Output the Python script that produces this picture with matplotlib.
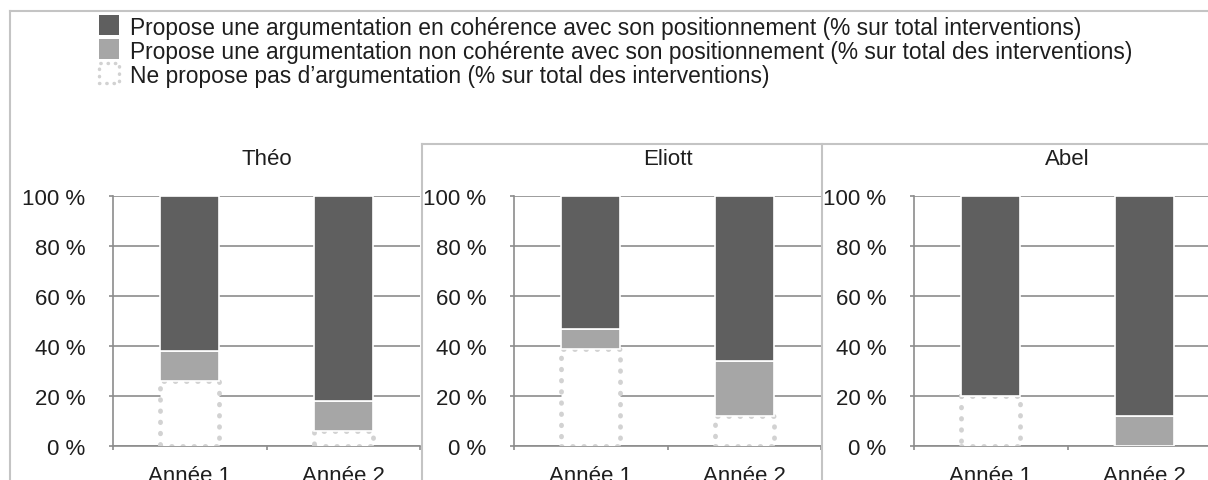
import matplotlib.pyplot as plt
from matplotlib.patches import Rectangle
from matplotlib.lines import Line2D
import numpy as np

plt.rcParams['font.family'] = ['Liberation Sans', 'DejaVu Sans']

eleves = ['Théo', 'Eliott', 'Abel']
annees = ['Année 1', 'Année 2']
# % sur total des interventions, par élève : [Année 1, Année 2]
sans_arg = [[26, 6], [39, 12], [20, 0]]
non_coherente = [[12, 12], [8, 22], [0, 12]]
coherente = [[62, 82], [53, 66], [80, 88]]

legende = [
    'Propose une argumentation en cohérence avec son positionnement (% sur total interventions)',
    'Propose une argumentation non cohérente avec son positionnement (% sur total des interventions)',
    'Ne propose pas d\u2019argumentation (% sur total des interventions)',
]

c_fonce = '#5f5f5f'
c_clair = '#a6a6a6'
c_pointille = '#d2d2d2'
c_grille = '#8c8c8c'
c_cadre = '#c4c4c4'
c_texte = '#1e1e1e'
taille = 16

W, H = 1208, 481
fig = plt.figure(figsize=(W / 100, H / 100), dpi=100)

gauches = [113, 514, 914]
x = np.arange(len(annees))
larg = 0.385

for k, nom in enumerate(eleves):
    ax = fig.add_axes([gauches[k] / W, (H - 447) / H, 307 / W, 250 / H])
    a = np.array(sans_arg[k])
    b = np.array(non_coherente[k])
    c = np.array(coherente[k])
    ax.bar(x, a, larg, color='white', edgecolor=c_pointille, linewidth=3.5,
           linestyle=(0, (0.1, 2.2)), capstyle='round', zorder=3)
    ax.bar(x, b, larg, bottom=a, color=c_clair, edgecolor='white', linewidth=1.2, zorder=3)
    ax.bar(x, c, larg, bottom=a + b, color=c_fonce, edgecolor='white', linewidth=1.2, zorder=3)

    ax.set_xlim(-0.5, 1.5)
    ax.set_ylim(0, 100)
    ax.set_yticks(range(0, 101, 20))
    ax.set_yticklabels([f'{v} %' for v in range(0, 101, 20)])
    ax.yaxis.grid(True, color=c_grille, linewidth=1.2)
    ax.set_axisbelow(True)
    ax.set_xticks(x)
    ax.set_xticklabels(annees)
    ax.set_xticks([-0.5, 0.5, 1.5], minor=True)
    ax.tick_params(axis='x', which='major', length=0, pad=14, labelsize=taille, labelcolor=c_texte)
    ax.tick_params(axis='x', which='minor', length=3, color=c_grille, width=1.2)
    ax.tick_params(axis='y', length=3, color=c_grille, width=1.2, pad=17, labelsize=taille, labelcolor=c_texte)
    for s in ['top', 'right']:
        ax.spines[s].set_visible(False)
    for s in ['left', 'bottom']:
        ax.spines[s].set_color(c_grille)
        ax.spines[s].set_linewidth(1.2)
    ax.set_title(nom, fontsize=taille, color=c_texte, pad=23)

# cadres
def trait(x0, y0, x1, y1):
    fig.add_artist(Line2D([x0 / W, x1 / W], [1 - y0 / H, 1 - y1 / H],
                          color=c_cadre, linewidth=1.5))

trait(10, 12, 10, H)
trait(10, 12, W, 12)
trait(422, 145, W, 145)
trait(422, 145, 422, H)
trait(822, 145, 822, H)

# légende
styles = [
    dict(facecolor=c_fonce, edgecolor='none'),
    dict(facecolor=c_clair, edgecolor='none'),
    dict(facecolor='white', edgecolor=c_pointille, linewidth=2.5,
         linestyle=(0, (0.1, 2.0)), capstyle='round'),
]
centres = [26, 50, 74]
for txt, st, yc in zip(legende, styles, centres):
    fig.add_artist(Rectangle((99 / W, 1 - (yc + 10) / H), 20 / W, 20 / H,
                             transform=fig.transFigure, **st))
    fig.text(130 / W, 1 - (yc + 3) / H, txt, fontsize=16.4, color=c_texte, va='center')

fig.savefig('out.png', dpi=100)
